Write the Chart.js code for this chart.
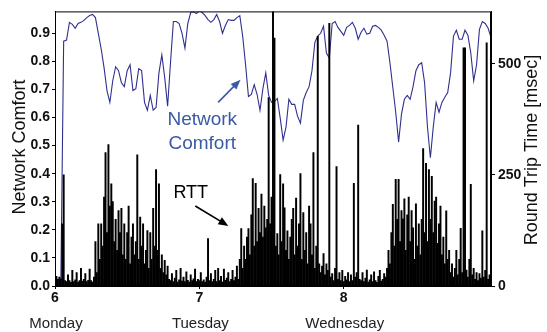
<!DOCTYPE html>
<html>
<head>
<meta charset="utf-8">
<script src="https://cdn.jsdelivr.net/npm/chart.js@4.4.1/dist/chart.umd.min.js"></script>
<style>
  html, body { margin: 0; padding: 0; background: #fff; }
</style>
</head>
<body>
<canvas id="myChart" width="547" height="332"></canvas>
<script>
// time axis is day of month, Monday = 6
const startDay = 6;
const endDay = 9.02;

// network comfort, one reading every 0.02 day
const comfortStep = 0.02;
const comfort = [
  0, 0, 0, 0.872, 0.876, 0.939, 0.932, 0.918, 0.935, 0.939,
  0.946, 0.956, 0.963, 0.967, 0.956, 0.900, 0.844, 0.777, 0.696, 0.654,
  0.731, 0.781, 0.767, 0.724, 0.710, 0.767, 0.788, 0.696, 0.703, 0.774,
  0.767, 0.654, 0.626, 0.679, 0.626, 0.636, 0.759, 0.823, 0.742, 0.640,
  0.795, 0.942, 0.942, 0.935, 0.900, 0.847, 0.935, 0.974, 0.977, 0.970,
  0.981, 0.974, 0.963, 0.949, 0.939, 0.949, 0.967, 0.942, 0.900, 0.928,
  0.949, 0.946, 0.946, 0.956, 0.963, 0.890, 0.788, 0.675, 0.682, 0.717,
  0.682, 0.626, 0.703, 0.759, 0.679, 0.654, 0.657, 0.668, 0.598, 0.520,
  0.566, 0.665, 0.647, 0.647, 0.605, 0.580, 0.661, 0.689, 0.710, 0.767,
  0.868, 0.890, 0.900, 0.925, 0.830, 0.812, 0.935, 0.942, 0.921, 0.907,
  0.893, 0.921, 0.928, 0.939, 0.918, 0.879, 0.904, 0.918, 0.897, 0.900,
  0.925, 0.928, 0.921, 0.911, 0.893, 0.872, 0.795, 0.707, 0.619, 0.513,
  0.612, 0.665, 0.679, 0.665, 0.710, 0.767, 0.788, 0.795, 0.724, 0.566,
  0.457, 0.566, 0.654, 0.619, 0.654, 0.672, 0.689, 0.759, 0.890, 0.911,
  0.879, 0.879, 0.911, 0.893, 0.830, 0.731, 0.788, 0.914, 0.942, 0.935,
  0.918, 0.886
];

// round trip time in msec, one reading every 0.01 day
const rttStep = 0.01;
const rtt = [
  18, 22, 15, 20, 16, 140, 250, 12,
  10, 25, 12, 8, 35, 10, 14, 30, 9, 12, 40, 11, 15, 28, 10, 13, 38, 12, 9, 20,
  100, 30, 140, 60, 140, 90, 200, 300, 120, 318, 180, 230, 190, 100, 150, 80, 170, 120, 175, 70,
  140, 60, 120, 180, 50, 110, 140, 70, 100, 295, 60, 155, 90, 140, 50, 80, 125, 40, 120, 60,
  175, 90, 262, 80, 230, 40, 70, 30, 58, 25, 45, 15,
  12, 28, 10, 18, 35, 9, 14, 40, 11, 20, 10, 32, 13, 9, 25, 12, 16, 38, 10,
  15, 12, 30, 10, 14, 9, 20, 107, 12, 28, 10, 15, 35, 10, 40, 12, 22, 9, 38, 13,
  18, 30, 10, 15, 35, 12, 20, 45, 15, 60,
  129, 40, 90, 60, 110, 129, 70, 160, 242, 90, 231, 100, 175, 120, 207, 110, 180, 131, 150, 424,
  140, 200, 700, 558, 90, 118, 70, 251, 100, 230, 176, 80, 124, 60, 110, 150, 175, 70, 198, 90,
  140, 253, 60, 165, 80, 120, 50, 180, 140, 70, 300, 40, 90, 562, 50, 30, 45, 73, 25, 50,
  35, 591, 20, 28, 12, 40, 269, 15, 30, 12, 35, 10, 22, 14, 30, 10, 25, 12, 231, 20,
  30, 362, 15,
  12, 30, 10, 18, 36, 9, 14, 25, 10, 32, 12, 8, 22, 35, 11, 15, 28, 20,
  40, 80, 50, 120, 184, 90, 240, 150, 240, 100, 170, 151, 196, 80, 160, 200, 100, 170, 131, 60,
  185, 90, 140, 70, 150, 309, 120, 276, 100, 262, 150, 247, 120, 191, 200, 96, 140, 180, 70, 110,
  50, 169, 60, 80, 30, 50, 20, 40, 80, 25, 60, 130, 30, 536, 536, 36, 20, 60, 229, 25,
  40, 15, 30, 12, 28, 18, 124, 20, 35, 547, 15, 25, 12
];

const dayTicks = [6, 7, 8];
const dayNames = ['Monday', 'Tuesday', 'Wednesday'];
const comfortTicks = [0, 0.1, 0.2, 0.3, 0.4, 0.5, 0.6, 0.7, 0.8, 0.9];
const rttTicks = [0, 250, 500];
const comfortMax = 0.978;
const rttMax = 618;

const comfortPoints = comfort.map((v, i) => ({ x: startDay + i * comfortStep, y: v }));
const rttPoints = rtt.map((v, i) => ({ x: startDay + i * rttStep, y: v }));

const blue = '#30308f';
const noteBlue = '#3b5aa6';
const font = 'Liberation Sans, Arial, sans-serif';

function arrow(ctx, x1, y1, x2, y2, color) {
  const ang = Math.atan2(y2 - y1, x2 - x1);
  ctx.strokeStyle = color;
  ctx.fillStyle = color;
  ctx.lineWidth = 1.6;
  ctx.beginPath();
  ctx.moveTo(x1, y1);
  ctx.lineTo(x2 - 6 * Math.cos(ang), y2 - 6 * Math.sin(ang));
  ctx.stroke();
  ctx.beginPath();
  ctx.moveTo(x2, y2);
  ctx.lineTo(x2 - 10 * Math.cos(ang) + 4 * Math.sin(ang), y2 - 10 * Math.sin(ang) - 4 * Math.cos(ang));
  ctx.lineTo(x2 - 10 * Math.cos(ang) - 4 * Math.sin(ang), y2 - 10 * Math.sin(ang) + 4 * Math.cos(ang));
  ctx.closePath();
  ctx.fill();
}

const decor = {
  id: 'decor',
  afterDraw(chart) {
    const { ctx, chartArea: a, scales } = chart;
    const sx = scales.x, sy = scales.y;
    ctx.save();
    // frame
    ctx.strokeStyle = '#000';
    ctx.lineWidth = 1;
    ctx.strokeRect(a.left + 0.5, a.top + 0.5, a.right - a.left - 1, a.bottom - a.top - 1);

    // day names under the ticks
    ctx.fillStyle = '#222';
    ctx.font = '15px ' + font;
    ctx.textAlign = 'center';
    ctx.textBaseline = 'alphabetic';
    dayTicks.forEach((d, i) => {
      ctx.fillText(dayNames[i], sx.getPixelForValue(d) + 1, 328);
    });

    // axis titles
    ctx.fillStyle = '#111';
    ctx.font = '18px ' + font;
    ctx.textBaseline = 'middle';
    ctx.save();
    ctx.translate(20, 147);
    ctx.rotate(-Math.PI / 2);
    ctx.fillText('Network Comfort', 0, 0);
    ctx.restore();
    ctx.save();
    ctx.translate(532, 150);
    ctx.rotate(-Math.PI / 2);
    ctx.fillText('Round Trip Time [msec]', 0, 0);
    ctx.restore();

    // notes
    ctx.textBaseline = 'alphabetic';
    ctx.fillStyle = noteBlue;
    ctx.font = '19px ' + font;
    ctx.fillText('Network', sx.getPixelForValue(7.02), sy.getPixelForValue(0.573));
    ctx.fillText('Comfort', sx.getPixelForValue(7.02), sy.getPixelForValue(0.489));
    arrow(ctx, sx.getPixelForValue(7.13), sy.getPixelForValue(0.654),
      sx.getPixelForValue(7.285), sy.getPixelForValue(0.735), noteBlue);

    ctx.fillStyle = '#000';
    ctx.font = '18px ' + font;
    ctx.textAlign = 'left';
    ctx.fillText('RTT', sx.getPixelForValue(6.82), sy.getPixelForValue(0.313));
    arrow(ctx, sx.getPixelForValue(6.972), sy.getPixelForValue(0.285),
      sx.getPixelForValue(7.201), sy.getPixelForValue(0.214), '#000');
    ctx.restore();
  }
};

new Chart(document.getElementById('myChart'), {
  data: {
    datasets: [
      {
        type: 'line',
        label: 'Network Comfort',
        data: comfortPoints,
        yAxisID: 'y',
        borderColor: blue,
        borderWidth: 1.1,
        fill: false,
        pointRadius: 0,
        tension: 0,
        order: 2
      },
      {
        type: 'bar',
        label: 'RTT',
        data: rttPoints,
        yAxisID: 'y2',
        backgroundColor: '#000',
        borderWidth: 0,
        barThickness: 1.3,
        order: 1
      }
    ]
  },
  options: {
    responsive: false,
    animation: false,
    layout: { padding: { top: 8 } },
    plugins: { legend: { display: false }, tooltip: { enabled: false } },
    scales: {
      x: {
        type: 'linear',
        offset: false,
        min: startDay,
        max: endDay,
        afterBuildTicks: s => { s.ticks = dayTicks.map(v => ({ value: v })); },
        afterFit: s => { s.height = 46; },
        ticks: { color: '#111', font: { family: font, size: 14, weight: 'bold' }, padding: 1, maxRotation: 0 },
        grid: { drawOnChartArea: false, tickLength: 3, color: '#000', offset: false },
        border: { color: '#000' }
      },
      y: {
        position: 'left',
        min: 0,
        max: comfortMax,
        afterBuildTicks: s => { s.ticks = comfortTicks.map(v => ({ value: v })); },
        afterFit: s => { s.width = 55; },
        ticks: { color: '#111', font: { family: font, size: 14, weight: 'bold' }, padding: 2,
          callback: v => v.toFixed(1) },
        grid: { drawOnChartArea: false, tickLength: 3, color: '#000' },
        border: { color: '#000' }
      },
      y2: {
        position: 'right',
        min: 0,
        max: rttMax,
        afterBuildTicks: s => { s.ticks = rttTicks.map(v => ({ value: v })); },
        afterFit: s => { s.width = 56; },
        ticks: { color: '#111', font: { family: font, size: 14, weight: 'bold' }, padding: 3 },
        grid: { drawOnChartArea: false, tickLength: 4, color: '#000' },
        border: { color: '#000' }
      }
    }
  },
  plugins: [decor]
});
</script>
</body>
</html>
